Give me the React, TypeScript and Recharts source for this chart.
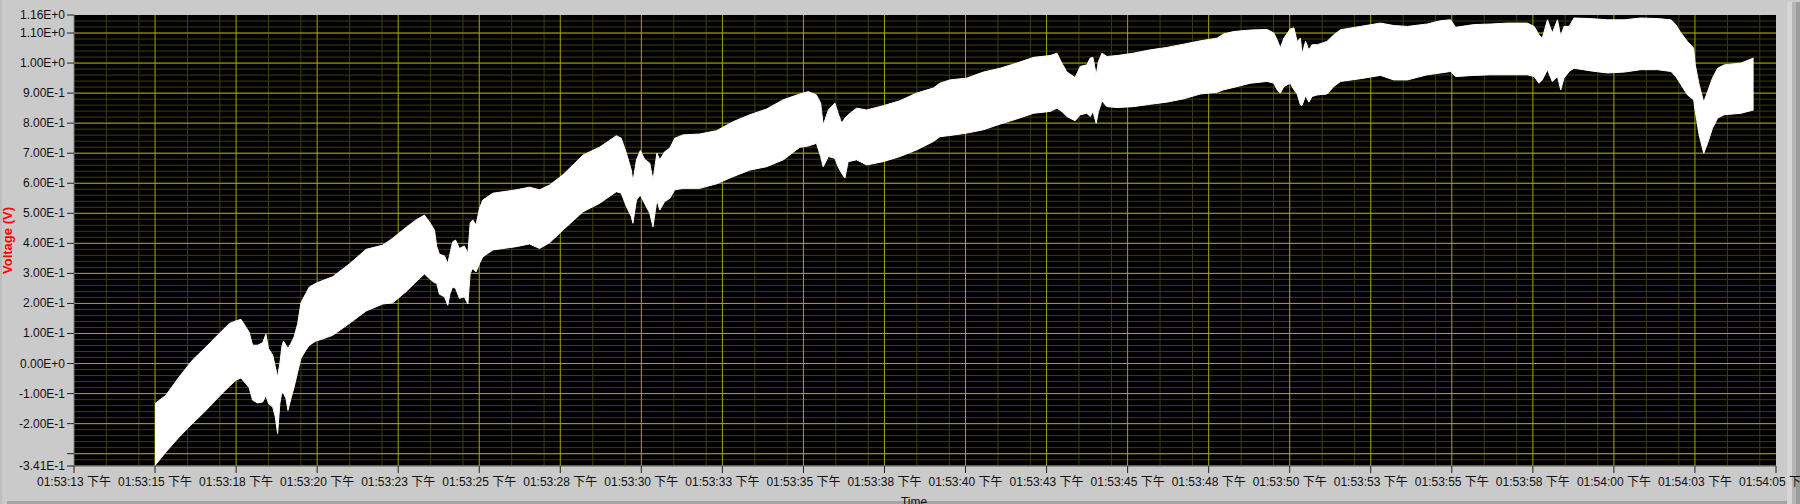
import React from 'react';
import { ComposedChart, Area, XAxis, YAxis, CartesianGrid } from 'recharts';

// Seconds after 01:53:00 PM
const timeSec = [
  15.50, 15.83, 16.24, 16.65, 17.07, 17.48, 17.79, 17.99, 18.15, 18.30,
  18.40, 18.51, 18.66, 18.82, 18.92, 19.00, 19.13, 19.21, 19.28, 19.35,
  19.41, 19.46, 19.54, 19.60, 19.69, 19.79, 19.90, 20.00, 20.15, 20.26,
  20.46, 20.57, 20.98, 21.49, 22.01, 22.52, 22.83, 23.24, 23.55, 23.81,
  23.96, 24.12, 24.19, 24.27, 24.43, 24.53, 24.60, 24.68, 24.77, 24.89,
  25.04, 25.15, 25.22, 25.30, 25.40, 25.51, 25.61, 25.92, 26.64, 27.05,
  27.36,
  27.67, 28.08, 28.70, 29.21, 29.73, 29.88, 30.04, 30.19, 30.24, 30.35,
  30.47, 30.60, 30.76, 30.86, 30.98, 31.07, 31.22, 31.38, 31.53, 31.79,
  32.30, 32.82, 33.33, 33.85, 34.36, 34.88, 35.39, 35.65, 35.90, 36.03,
  36.11, 36.27, 36.47, 36.57, 36.68, 36.78, 36.88, 37.14, 37.45, 37.96,
  38.48, 38.99, 39.51, 39.71,
  40.02, 40.54, 41.05, 41.57, 42.08, 42.60, 43.11, 43.32, 43.47, 43.63,
  43.88, 44.04, 44.24, 44.35, 44.43, 44.53, 44.60, 44.71, 44.86, 45.17,
  45.68, 46.20, 46.71, 47.23, 47.74, 48.26, 48.46, 48.77, 49.29, 49.80,
  50.01, 50.11, 50.21, 50.32, 50.52, 50.63, 50.73, 50.83, 50.88, 50.99,
  51.09, 51.19, 51.35, 51.65, 51.86,
  52.07, 52.68, 53.30, 53.71, 54.13, 54.74, 55.15, 55.46, 55.62, 56.18,
  56.70, 57.21, 57.83, 58.04, 58.19, 58.29, 58.45, 58.60, 58.76, 58.86,
  58.96, 59.12, 59.27, 59.79, 60.30, 60.82, 61.33, 61.85, 62.26, 62.41,
  62.57, 62.77, 62.96, 63.01, 63.13, 63.27, 63.39, 63.54, 63.70, 63.90,
  64.42, 64.81,
];

// Upper envelope of the signal (V)
const upperV = [
  -0.133, -0.106, -0.045, 0.011, 0.055, 0.100, 0.133, 0.142, 0.147, 0.122,
  0.105, 0.061, 0.061, 0.069, 0.098, 0.050, 0.028, -0.011, -0.045, 0.000,
  0.055, 0.075, 0.061, 0.050, 0.067, 0.089, 0.133, 0.202, 0.233, 0.255,
  0.267, 0.272, 0.289, 0.331, 0.380, 0.394, 0.417, 0.453, 0.478, 0.494,
  0.472, 0.444, 0.389, 0.364, 0.358, 0.333, 0.367, 0.405, 0.411, 0.383,
  0.391, 0.367, 0.467, 0.478, 0.461, 0.517, 0.544, 0.567, 0.578, 0.587,
  0.578,
  0.594, 0.628, 0.694, 0.720, 0.758, 0.750, 0.700, 0.644, 0.605, 0.678,
  0.709, 0.680, 0.667, 0.611, 0.700, 0.678, 0.705, 0.717, 0.750, 0.761,
  0.764, 0.775, 0.805, 0.828, 0.847, 0.878, 0.897, 0.905, 0.894, 0.867,
  0.794, 0.844, 0.867, 0.833, 0.800, 0.817, 0.828, 0.850, 0.844, 0.858,
  0.875, 0.900, 0.917, 0.933,
  0.944, 0.950, 0.970, 0.983, 1.000, 1.019, 1.025, 1.033, 1.000, 0.970,
  0.952, 0.989, 0.994, 1.017, 1.019, 0.961, 1.005, 1.033, 1.022, 1.025,
  1.033, 1.044, 1.052, 1.063, 1.074, 1.083, 1.097, 1.105, 1.110, 1.112,
  1.100, 1.078, 1.050, 1.083, 1.114, 1.117, 1.072, 1.083, 1.030, 1.072,
  1.044, 1.061, 1.061, 1.072, 1.094,
  1.111, 1.122, 1.133, 1.125, 1.122, 1.130, 1.141, 1.144, 1.119, 1.128,
  1.130, 1.133, 1.133, 1.122, 1.094, 1.083, 1.144, 1.100, 1.144, 1.089,
  1.122, 1.122, 1.150, 1.148, 1.144, 1.144, 1.150, 1.148, 1.144, 1.128,
  1.100, 1.072, 1.050, 0.994, 0.928, 0.870, 0.905, 0.950, 0.983, 0.994,
  1.000, 1.017,
];

// Lower envelope of the signal (V)
const lowerV = [
  -0.339, -0.295, -0.245, -0.200, -0.156, -0.109, -0.076, -0.056, -0.048, -0.067,
  -0.080, -0.122, -0.131, -0.128, -0.106, -0.133, -0.145, -0.178, -0.233, -0.133,
  -0.095, -0.098, -0.117, -0.156, -0.117, -0.078, -0.028, 0.017, 0.044, 0.061,
  0.075, 0.078, 0.094, 0.133, 0.175, 0.198, 0.202, 0.239, 0.272, 0.298,
  0.283, 0.269, 0.267, 0.231, 0.222, 0.194, 0.233, 0.255, 0.250, 0.217,
  0.222, 0.198, 0.300, 0.317, 0.305, 0.333, 0.355, 0.378, 0.389, 0.398,
  0.383,
  0.402, 0.444, 0.505, 0.533, 0.572, 0.567, 0.522, 0.489, 0.467, 0.544,
  0.561, 0.533, 0.500, 0.455, 0.544, 0.511, 0.539, 0.550, 0.578, 0.583,
  0.583, 0.598, 0.622, 0.644, 0.655, 0.678, 0.720, 0.724, 0.733, 0.689,
  0.655, 0.689, 0.683, 0.655, 0.633, 0.617, 0.672, 0.678, 0.661, 0.672,
  0.689, 0.711, 0.739, 0.755,
  0.759, 0.767, 0.778, 0.797, 0.814, 0.833, 0.839, 0.850, 0.839, 0.822,
  0.808, 0.828, 0.833, 0.822, 0.839, 0.800, 0.839, 0.874, 0.855, 0.852,
  0.855, 0.863, 0.870, 0.881, 0.897, 0.903, 0.911, 0.919, 0.933, 0.939,
  0.933, 0.911, 0.900, 0.922, 0.933, 0.911, 0.897, 0.861, 0.859, 0.892,
  0.870, 0.889, 0.894, 0.897, 0.922,
  0.939, 0.948, 0.959, 0.944, 0.944, 0.961, 0.967, 0.972, 0.955, 0.959,
  0.961, 0.961, 0.961, 0.955, 0.933, 0.944, 0.978, 0.939, 0.955, 0.911,
  0.950, 0.972, 0.983, 0.974, 0.967, 0.970, 0.978, 0.978, 0.972, 0.955,
  0.928, 0.894, 0.878, 0.839, 0.761, 0.700, 0.733, 0.783, 0.817, 0.828,
  0.833, 0.844,
];

const xTicks = [13, 15.5, 18, 20.5, 23, 25.5, 28, 30.5, 33, 35.5, 38, 40.5, 43, 45.5, 48, 50.5, 53, 55.5, 58, 60.5, 63, 65.5];
const yTicks = [-0.341, -0.3, -0.2, -0.1, 0, 0.1, 0.2, 0.3, 0.4, 0.5, 0.6, 0.7, 0.8, 0.9, 1.0, 1.1, 1.16];
const hiddenYLabels = [-0.3];

const X_MIN = 13;
const X_MAX = 65.5;
const Y_MIN = -0.341;
const Y_MAX = 1.16;

const majorX = xTicks.slice(1, -1);
const minorX = xTicks.slice(0, -1).flatMap((m) => [m + 1, m + 2]);
const majorY = yTicks.filter((v) => v > Y_MIN && v < 1.15);
const minorY = Array.from({ length: 76 }, (_, i) => Math.round((-0.34 + i * 0.02) * 1000) / 1000).filter(
  (v) => v > Y_MIN && v < Y_MAX
);

const n = Math.min(timeSec.length, upperV.length, lowerV.length);
const data = timeSec.slice(0, n).map((t, i) => ({ t, band: [lowerV[i], upperV[i]] }));

const FONT = "'Liberation Sans', Arial, 'Noto Sans CJK SC', sans-serif";

function fmtTime(v: number) {
  const s = Math.floor(v + 1e-6);
  const m = 53 + Math.floor(s / 60);
  const ss = s % 60;
  return `01:${m}:${String(ss).padStart(2, '0')} 下午`;
}

function fmtV(v: number) {
  return v.toExponential(2).replace('e', 'E');
}

const XTick = (props: any) => {
  const { x, y, payload } = props;
  return (
    <text x={x} y={y} dy={11} textAnchor="middle" fill="#101010" fontSize={12} fontFamily={FONT}>
      {fmtTime(payload.value)}
    </text>
  );
};

const YTick = (props: any) => {
  const { x, y, payload } = props;
  if (hiddenYLabels.some((h) => Math.abs(h - payload.value) < 1e-6)) return <g />;
  return (
    <text x={x} y={y} dy={4} textAnchor="end" fill="#101010" fontSize={12} fontFamily={FONT}>
      {fmtV(payload.value)}
    </text>
  );
};

const YTitle = (props: any) => {
  const vb = props.viewBox || { x: 0, y: 15, width: 74, height: 451 };
  const cx = vb.x + 7.5;
  const cy = vb.y + vb.height / 2;
  return (
    <text
      x={cx}
      y={cy}
      transform={`rotate(-90, ${cx}, ${cy})`}
      textAnchor="middle"
      dominantBaseline="central"
      fill="#ff0000"
      fontSize={13}
      fontWeight="bold"
      fontFamily={FONT}
    >
      Voltage (V)
    </text>
  );
};

const XTitle = (props: any) => {
  const vb = props.viewBox || { x: 74, y: 466, width: 1702, height: 38 };
  return (
    <text x={vb.x + vb.width / 2 - 11} y={vb.y + 39.5} textAnchor="middle" fill="#101010" fontSize={12} fontFamily={FONT}>
      Time
    </text>
  );
};

export default function App() {
  return (
    <div style={{ position: 'absolute', left: 0, top: 0, width: 1800, height: 504, background: '#cacaca', overflow: 'hidden' }}>
      <div style={{ position: 'absolute', left: 0, top: 0, width: 2, height: 504, background: '#bdbdbd' }} />
      <div style={{ position: 'absolute', left: 7, top: 501, width: 1793, height: 3, background: '#a4a4a4' }} />
      <div style={{ position: 'absolute', left: 1787, top: 2, width: 5, height: 502, background: '#d6d6d6' }} />
      <div style={{ position: 'absolute', left: 1792, top: 2, width: 4, height: 502, background: '#b4b4b4' }} />
      <div style={{ position: 'absolute', left: 1796, top: 2, width: 4, height: 502, background: '#9c9c9c' }} />
      <div style={{ position: 'absolute', left: 0, top: 0 }}>
        <ComposedChart width={1800} height={504} data={data} margin={{ top: 15, right: 24, bottom: 0, left: 0 }}>
          <CartesianGrid
            fill="#000000"
            stroke="#3d3d0c"
            strokeWidth={1}
            horizontalValues={minorY}
            verticalValues={minorX}
          />
          <CartesianGrid
            fill="none"
            stroke="#a6a600"
            strokeWidth={1}
            horizontalValues={majorY}
            verticalValues={majorX}
          />
          <XAxis
            dataKey="t"
            type="number"
            domain={[X_MIN, X_MAX]}
            allowDataOverflow
            ticks={xTicks}
            interval={0}
            height={38}
            tickSize={7}
            tickMargin={2}
            axisLine={{ stroke: '#808080' }}
            tickLine={{ stroke: '#202020' }}
            tick={<XTick />}
            label={<XTitle />}
          />
          <YAxis
            type="number"
            domain={[Y_MIN, Y_MAX]}
            allowDataOverflow
            ticks={yTicks}
            interval={0}
            width={74}
            tickSize={7}
            tickMargin={2}
            axisLine={{ stroke: '#808080' }}
            tickLine={{ stroke: '#202020' }}
            tick={<YTick />}
            label={<YTitle />}
          />
          <Area
            type="linear"
            dataKey="band"
            stroke="#ffffff"
            strokeWidth={1}
            fill="#ffffff"
            fillOpacity={1}
            isAnimationActive={false}
            dot={false}
            activeDot={false}
          />
        </ComposedChart>
      </div>
    </div>
  );
}
